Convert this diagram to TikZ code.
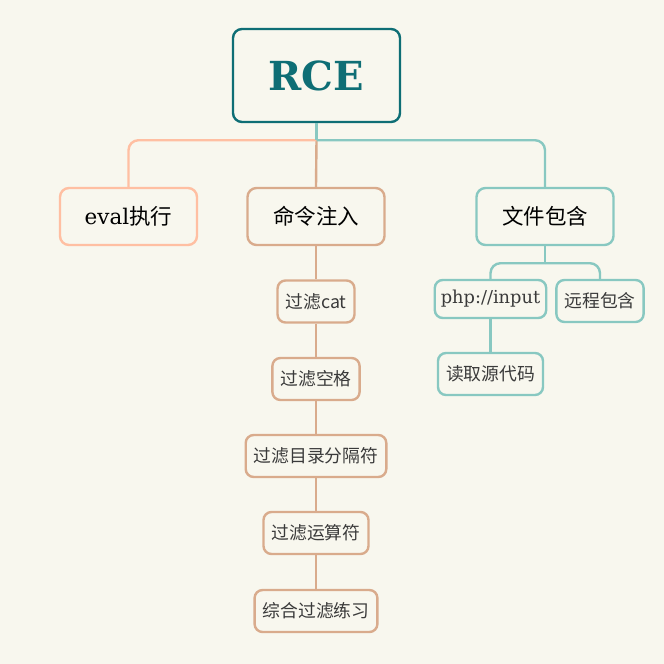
\documentclass[tikz,border=0pt]{standalone}
\usepackage{fontspec}
\setmainfont{DejaVu Serif}
\newfontfamily\cjk{Noto Sans CJK SC}
\usetikzlibrary{positioning}
\definecolor{bgcol}{HTML}{F8F7EE}
\definecolor{rcecol}{HTML}{0E6E75}
\definecolor{salmoncol}{HTML}{FFBFA2}
\definecolor{tancol}{HTML}{D9AB8C}
\definecolor{tealcol}{HTML}{88C8C1}
\definecolor{txtcol}{HTML}{3A3A3A}
\newcommand{\zh}[1]{{\cjk #1}}

\begin{document}
\begin{tikzpicture}[x=1pt, y=-1pt,
    rootbox/.style={draw=rcecol, line width=2.4pt, rounded corners=9pt, text=rcecol,
      minimum width=167pt, minimum height=93pt, font=\fontsize{40}{44}\selectfont\bfseries},
    mainbox/.style={line width=2.4pt, rounded corners=9pt, text=black,
      minimum width=137pt, minimum height=57pt, font=\fontsize{21.5}{25}\selectfont},
    subbox/.style={line width=2.4pt, rounded corners=8pt, text=txtcol,
      minimum height=42pt, inner xsep=8pt, font=\fontsize{17.8}{21}\selectfont},
    link/.style={line width=2.4pt, rounded corners=10pt}]

  \fill[bgcol] (0,0) rectangle (664,664);
  \useasboundingbox (0,0) rectangle (664,664);

  % root and first level
  \node[rootbox] (rce) at (316.5,75.5) {RCE};
  \node[mainbox, draw=salmoncol] (eval) at (128.5,216.5) {eval\zh{执行}};
  \node[mainbox, draw=tancol] (cmd) at (316,216.5) {\zh{命令注入}};
  \node[mainbox, draw=tealcol] (incl) at (545,216.5) {\zh{文件包含}};

  % command injection branch
  \node[subbox, draw=tancol] (cat) at (316,301.5) {\zh{过滤cat}};
  \node[subbox, draw=tancol] (space) at (316,379) {\zh{过滤空格}};
  \node[subbox, draw=tancol] (sep) at (316,456) {\zh{过滤目录分隔符}};
  \node[subbox, draw=tancol] (oper) at (316,533) {\zh{过滤运算符}};
  \node[subbox, draw=tancol] (mix) at (316,611) {\zh{综合过滤练习}};

  % file inclusion branch
  \node[subbox, draw=tealcol, minimum height=38pt, inner xsep=6pt] (php) at (490.5,299) {php://input};
  \node[subbox, draw=tealcol] (remote) at (600,301) {\zh{远程包含}};
  \node[subbox, draw=tealcol] (src) at (490.5,374) {\zh{读取源代码}};

  % connectors
  \draw[link, tancol] (rce.south) -- ++(0,17) coordinate (hub);
  \draw[link, tancol] (hub) -- (cmd.north);
  \draw[link, salmoncol] (hub) -| (eval.north);
  \draw[link, tealcol] (hub) -| (incl.north);
  \draw[link, tealcol] (rce.south) -- (hub);

  \draw[link, tancol] (cmd) -- (cat);
  \draw[link, tancol] (cat) -- (space);
  \draw[link, tancol] (space) -- (sep);
  \draw[link, tancol] (sep) -- (oper);
  \draw[link, tancol] (oper) -- (mix);

  \draw[link, tealcol] (incl.south) -- ++(0,17) coordinate (inclhub);
  \draw[link, tealcol] (inclhub) -| (php.north);
  \draw[link, tealcol] (inclhub) -| (remote.north);
  \draw[link, tealcol] (php) -- (src);
\end{tikzpicture}
\end{document}
